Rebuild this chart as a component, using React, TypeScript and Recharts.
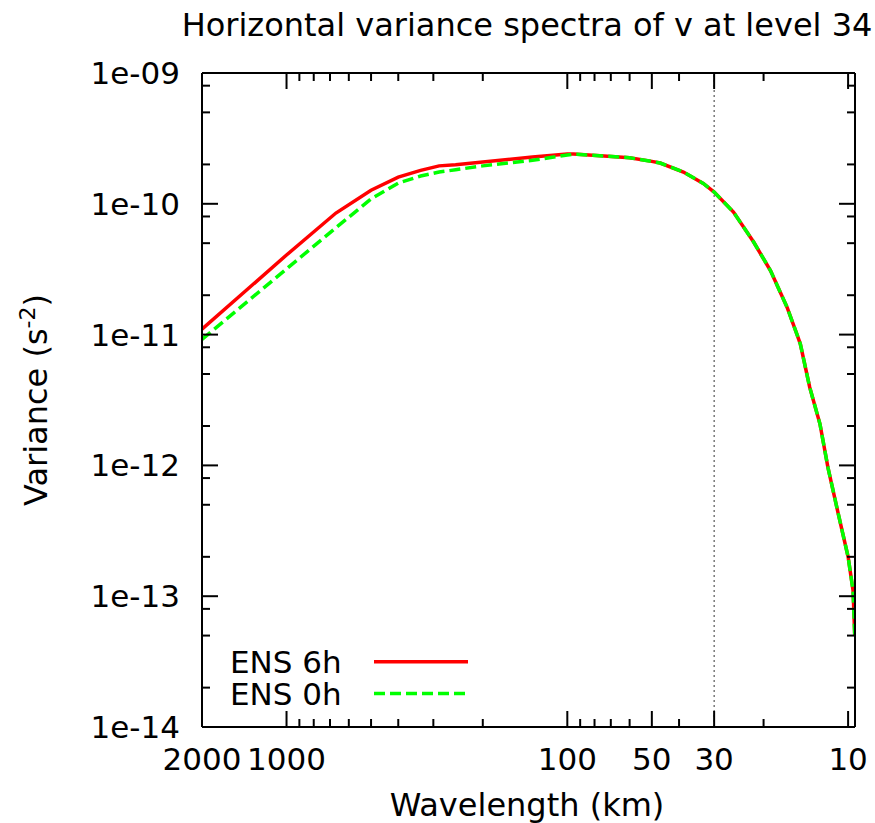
import React from 'react';
import { LineChart, Line, XAxis, YAxis, ReferenceLine, Legend } from 'recharts';

// ---- data ----
const wavelengths = [2000, 1000, 667, 500, 400, 333, 286, 250, 200, 133, 100, 95, 74, 60, 50, 46.7, 38.6, 32.8, 30, 25.6, 21.7, 18.9, 16.5, 15.2, 14.8, 13.7, 12.6, 11.8, 10.9, 10.0, 9.6, 9.47];
const ens6h = [1.10e-11, 4.06e-11, 8.5e-11, 1.27e-10, 1.60e-10, 1.80e-10, 1.95e-10, 1.99e-10, 2.09e-10, 2.28e-10, 2.40e-10, 2.40e-10, 2.32e-10, 2.25e-10, 2.11e-10, 2.05e-10, 1.75e-10, 1.43e-10, 1.23e-10, 8.65e-11, 5.1e-11, 3.09e-11, 1.62e-11, 1.0e-11, 8.5e-12, 3.96e-12, 2.08e-12, 9.66e-13, 4.5e-13, 2.0e-13, 1.1e-13, 5.0e-14];
const ens0h = [9.2e-12, 3.18e-11, 6.56e-11, 1.09e-10, 1.44e-10, 1.63e-10, 1.75e-10, 1.82e-10, 1.95e-10, 2.15e-10, 2.36e-10, 2.40e-10, 2.32e-10, 2.25e-10, 2.11e-10, 2.05e-10, 1.75e-10, 1.43e-10, 1.23e-10, 8.65e-11, 5.1e-11, 3.09e-11, 1.62e-11, 1.0e-11, 8.5e-12, 3.96e-12, 2.08e-12, 9.66e-13, 4.5e-13, 2.0e-13, 1.1e-13, 5.0e-14];

const seriesNames = ['ENS 6h', 'ENS 0h'];
const seriesColors = ['#ff0000', '#00ff00'];
const seriesDash = [undefined, '11 5'];

const xMajorTicks = [2000, 1000, 100, 50, 30, 10];
const xTickLabels = ['2000', '1000', '100', '50', '30', '10'];
const xMinorTicks = [900, 800, 700, 600, 500, 400, 300, 200, 90, 80, 70, 60, 40, 20];

const yMajorTicks = [1e-9, 1e-10, 1e-11, 1e-12, 1e-13, 1e-14];
const yTickLabels = ['1e-09', '1e-10', '1e-11', '1e-12', '1e-13', '1e-14'];
const yMinorTicks = [8e-10, 5e-10, 2e-10, 8e-11, 5e-11, 2e-11, 8e-12, 5e-12, 2e-12, 8e-13, 5e-13, 2e-13, 8e-14, 5e-14, 2e-14];

const titleText = 'Horizontal variance spectra of v at level 34';
const xTitle = 'Wavelength (km)';

const data = wavelengths.map((w, i) => ({ w, ens6h: ens6h[i], ens0h: ens0h[i] }));

const FONT = "'DejaVu Sans', sans-serif";
const FS = 31;
const FS_TITLE = 32;
const X_DOMAIN: [number, number] = [9.45, 2000];
const Y_DOMAIN: [number, number] = [1e-14, 1e-9];
const MAJOR = 16;
const MINOR = 8;

const findIdx = (arr: number[], v: number) =>
  arr.findIndex((t) => Math.abs(Math.log10(t) - Math.log10(v)) < 1e-6);

const BottomTick = (props: any) => {
  const { x, y, payload } = props;
  const idx = findIdx(xMajorTicks, payload.value);
  const len = idx >= 0 ? MAJOR : MINOR;
  return (
    <g>
      <line x1={x} y1={y} x2={x} y2={y - len} stroke="#000" strokeWidth={2} />
      {idx >= 0 && (
        <text x={x} y={y + 43} textAnchor="middle" fontFamily={FONT} fontSize={FS} fill="#000">
          {xTickLabels[idx]}
        </text>
      )}
    </g>
  );
};

const TopTick = (props: any) => {
  const { x, y, payload } = props;
  const idx = findIdx(xMajorTicks, payload.value);
  const len = idx >= 0 ? MAJOR : MINOR;
  return <line x1={x} y1={y} x2={x} y2={y + len} stroke="#000" strokeWidth={2} />;
};

const LeftTick = (props: any) => {
  const { x, y, payload } = props;
  const idx = findIdx(yMajorTicks, payload.value);
  const len = idx >= 0 ? MAJOR : MINOR;
  return (
    <g>
      <line x1={x} y1={y} x2={x + len} y2={y} stroke="#000" strokeWidth={2} />
      {idx >= 0 && (
        <text x={x - 22} y={y + 11} textAnchor="end" fontFamily={FONT} fontSize={FS} fill="#000">
          {yTickLabels[idx]}
        </text>
      )}
    </g>
  );
};

const RightTick = (props: any) => {
  const { x, y, payload } = props;
  const idx = findIdx(yMajorTicks, payload.value);
  const len = idx >= 0 ? MAJOR : MINOR;
  return <line x1={x} y1={y} x2={x - len} y2={y} stroke="#000" strokeWidth={2} />;
};

const LegendContent = () => {
  return (
    <svg width={260} height={72} style={{ display: 'block' }}>
      {seriesNames.map((name, i) => {
        const cy = 16.7 + i * 31.8;
        return (
          <g key={name}>
            <text x={8} y={cy + 11} fontFamily={FONT} fontSize={FS} fill="#000">
              {name}
            </text>
            <line
              x1={152}
              y1={cy}
              x2={246}
              y2={cy}
              stroke={seriesColors[i]}
              strokeWidth={3.5}
              strokeDasharray={seriesDash[i]}
            />
          </g>
        );
      })}
    </svg>
  );
};

const axisLine = { stroke: '#000', strokeWidth: 2 };

export default function App() {
  const allX = [...xMajorTicks, ...xMinorTicks];
  const allY = [...yMajorTicks, ...yMinorTicks];
  return (
    <div style={{ position: 'absolute', left: 0, top: 0, width: 875, height: 823, background: '#fff' }}>
      <LineChart width={875} height={823} data={data} margin={{ top: 72, right: 19, bottom: 95, left: 201 }}>
        <XAxis
          xAxisId="b"
          dataKey="w"
          type="number"
          scale="log"
          domain={X_DOMAIN}
          reversed
          allowDataOverflow
          orientation="bottom"
          height={1}
          ticks={allX}
          interval={0}
          tickSize={0}
          tickMargin={0}
          tickLine={false}
          tick={BottomTick}
          axisLine={axisLine}
        />
        <XAxis
          xAxisId="t"
          dataKey="w"
          type="number"
          scale="log"
          domain={X_DOMAIN}
          reversed
          allowDataOverflow
          orientation="top"
          height={1}
          ticks={allX}
          interval={0}
          tickSize={0}
          tickMargin={0}
          tickLine={false}
          tick={TopTick}
          axisLine={axisLine}
        />
        <YAxis
          yAxisId="l"
          type="number"
          scale="log"
          domain={Y_DOMAIN}
          allowDataOverflow
          orientation="left"
          width={1}
          ticks={allY}
          interval={0}
          tickSize={0}
          tickMargin={0}
          tickLine={false}
          tick={LeftTick}
          axisLine={axisLine}
        />
        <YAxis
          yAxisId="r"
          type="number"
          scale="log"
          domain={Y_DOMAIN}
          allowDataOverflow
          orientation="right"
          width={1}
          ticks={allY}
          interval={0}
          tickSize={0}
          tickMargin={0}
          tickLine={false}
          tick={RightTick}
          axisLine={axisLine}
        />
        <ReferenceLine xAxisId="b" yAxisId="l" x={30} stroke="#333" strokeWidth={1} strokeDasharray="2 3" />
        <Line
          xAxisId="b"
          yAxisId="l"
          type="linear"
          dataKey="ens6h"
          name={seriesNames[0]}
          stroke={seriesColors[0]}
          strokeWidth={3.5}
          dot={false}
          isAnimationActive={false}
        />
        <Line
          xAxisId="b"
          yAxisId="l"
          type="linear"
          dataKey="ens0h"
          name={seriesNames[1]}
          stroke={seriesColors[1]}
          strokeWidth={3.5}
          strokeDasharray={seriesDash[1]}
          dot={false}
          isAnimationActive={false}
        />
        <Legend
          layout="vertical"
          align="center"
          verticalAlign="middle"
          content={LegendContent}
          wrapperStyle={{ position: 'absolute', left: 222, top: 645, width: 260, height: 72 }}
        />
      </LineChart>
      <svg
        width={875}
        height={823}
        style={{ position: 'absolute', left: 0, top: 0, pointerEvents: 'none' }}
      >
        <text x={527} y={36} textAnchor="middle" fontFamily={FONT} fontSize={FS_TITLE} fill="#000">
          {titleText}
        </text>
        <text x={527} y={816} textAnchor="middle" fontFamily={FONT} fontSize={FS_TITLE} fill="#000">
          {xTitle}
        </text>
        <text
          x={47}
          y={400}
          textAnchor="middle"
          fontFamily={FONT}
          fontSize={FS_TITLE}
          fill="#000"
          transform="rotate(-90 47 400)"
        >
          Variance (s
          <tspan dy={-12} fontSize={22}>-2</tspan>
          <tspan dy={12}>)</tspan>
        </text>
      </svg>
    </div>
  );
}
